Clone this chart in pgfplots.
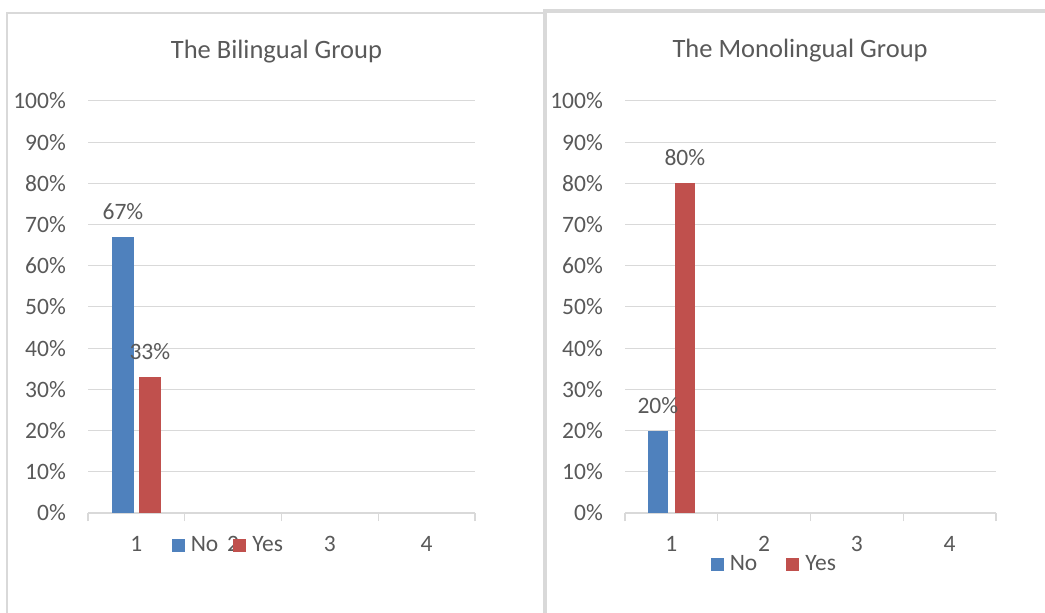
\documentclass[border=0pt]{standalone}
\usepackage{pgfplots}
\pgfplotsset{compat=1.18}
\usepackage{fontspec}
\setmainfont{Carlito}
\definecolor{txt}{HTML}{595959}
\definecolor{gridc}{HTML}{D9D9D9}
\definecolor{framec}{HTML}{D9D9D9}
\definecolor{bblue}{HTML}{4F81BD}
\definecolor{bred}{HTML}{C0504D}
\newcommand{\ticksize}{\fontsize{23.5bp}{28bp}\selectfont}
\newcommand{\titlesize}{\fontsize{26.5bp}{32bp}\selectfont}
\pgfplotsset{
  panel/.style={
    scale only axis, height=412bp,
    xmin=0.5, xmax=4.5, ymin=0, ymax=100,
    xtick={1,2,3,4}, xticklabels={1,2,3,4},
    minor xtick={0.5,1.5,2.5,3.5,4.5},
    ytick={0,10,...,100},
    yticklabels={0\%,10\%,20\%,30\%,40\%,50\%,60\%,70\%,80\%,90\%,100\%},
    axis x line*=bottom, axis y line*=left,
    y axis line style={draw=none},
    x axis line style={gridc, line width=1.5bp, -},
    major tick length=0pt, minor tick length=8bp,
    tick align=outside,
    minor x tick style={gridc, line width=1.2bp},
    ymajorgrids, major grid style={gridc, line width=1bp},
    tick label style={font=\ticksize, text=txt, inner sep=0pt},
    yticklabel style={anchor=east, xshift=-22bp},
    xticklabel style={anchor=base, yshift=-39bp},
    /pgf/number format/assume math mode=true,
    nodes near coords={\pgfmathprintnumber{\pgfplotspointmeta}\%},
    every node near coord/.append style={font=\ticksize, text=txt, inner sep=0pt, anchor=base, yshift=17.5bp},
    title style={font=\titlesize, text=txt, anchor=base, inner sep=0pt},
    legend style={draw=none, fill=none, font=\ticksize, text=txt, legend columns=2,
      inner sep=0pt, nodes={inner sep=3bp},
      /tikz/every odd column/.append style={column sep=3bp}},
    legend cell align=left,
  },
  sq/.style={legend image code/.code={\fill[#1] (0bp,-6.5bp) rectangle (13bp,6.5bp);}},
}
\begin{document}
\begin{tikzpicture}
\path[use as bounding box] (0,0) rectangle (1045bp,613bp);
% panel frames
\draw[framec, line width=2bp] (7bp,0bp) -- (7bp,600bp) -- (545bp,600bp);
\draw[framec, line width=3.5bp] (545bp,0bp) -- (545bp,602bp) -- (1045bp,602bp);

\begin{axis}[panel, at={(88bp,100bp)}, anchor=south west, width=387bp,
  ybar=5.3bp, bar width=21.6bp,
  title={The Bilingual Group}, title style={at={(0.487,1.088)}},
  legend style={at={(0.364,-0.078)}, anchor=center,
    /tikz/every even column/.append style={column sep=12bp}}]
\addplot[fill=bblue, draw=none, sq] coordinates {(1,67)};
\addplot[fill=bred, draw=none, sq] coordinates {(1,33)};
\legend{No,Yes}
\end{axis}

\begin{axis}[panel, at={(625bp,100bp)}, anchor=south west, width=371bp,
  ybar=6.4bp, bar width=20.6bp,
  title={The Monolingual Group}, title style={at={(0.472,1.091)}},
  legend style={at={(0.404,-0.124)}, anchor=center,
    /tikz/every even column/.append style={column sep=26bp}}]
\addplot[fill=bblue, draw=none, sq] coordinates {(1,20)};
\addplot[fill=bred, draw=none, sq] coordinates {(1,80)};
\legend{No,Yes}
\end{axis}
\end{tikzpicture}
\end{document}
